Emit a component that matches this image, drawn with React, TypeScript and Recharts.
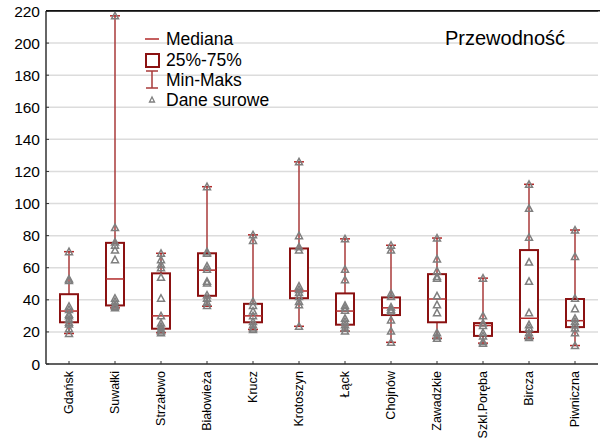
import { ComposedChart, Bar, Scatter, XAxis, YAxis, CartesianGrid, ReferenceLine } from 'recharts'

const categories = [
  'Gdańsk', 'Suwałki', 'Strzałowo', 'Białowieża', 'Krucz', 'Krotoszyn',
  'Łąck', 'Chojnów', 'Zawadzkie', 'Szkl.Poręba', 'Bircza', 'Piwniczna',
]
const minV = [19, 35, 19.5, 36, 21.5, 23.5, 20.5, 13.5, 16, 13, 16, 11.5]
const q1V = [26, 36.5, 22, 42.5, 26, 41, 24.5, 30.5, 26, 17.5, 20, 23]
const medV = [33, 53, 30, 58.5, 30, 45.5, 33, 35, 40.5, 24, 28.5, 27]
const q3V = [43.5, 75.5, 56.5, 69, 37.5, 72, 44, 41.5, 56, 25.5, 71, 40.5]
const maxV = [70, 217, 69, 110.5, 80.5, 126, 78, 74, 78.5, 53.5, 112, 83.5]

// dane surowe per stacja
const raw = [
  [70, 53, 52, 36, 34, 31, 30, 28, 26, 25, 22, 19],
  [217, 85, 76, 74, 71, 65, 41, 39, 37, 36, 35],
  [69, 65, 62, 60, 54, 41, 30, 25.5, 23.5, 22, 20.5, 19.5],
  [110.5, 70, 69, 61, 59, 51.5, 50.5, 43, 41, 38.5, 36.5],
  [80.5, 77, 39, 36.5, 33, 30, 26.5, 24.5, 22.5, 21.5],
  [126, 80, 73, 71, 48.5, 46.5, 44.5, 42, 39, 37, 23.5],
  [78, 59, 52.5, 36.5, 35, 33.5, 28.5, 26.5, 24.5, 22.5, 20.5],
  [74, 71, 44, 42, 35.5, 34, 33, 27.5, 20.5, 13.5],
  [78.5, 65.5, 58, 54.5, 53.5, 42.5, 37, 32, 19.5, 17.5, 16],
  [53.5, 30, 25.5, 24, 19.5, 17.5, 14, 13],
  [112, 97, 79, 63.5, 51.5, 32, 24.5, 22.5, 19.5, 17.5, 16.5],
  [83.5, 67, 41, 34.5, 28.5, 26.5, 24.5, 22.5, 19.5, 11.5],
]

const yTicks = [0, 20, 40, 60, 80, 100, 120, 140, 160, 180, 200, 220]

const boxData = categories.map((name, i) => ({
  name, min: minV[i], q1: q1V[i], median: medV[i], q3: q3V[i], max: maxV[i],
}))
const rawPoints = categories.flatMap((name, i) => raw[i].map((v) => ({ name, v })))

const FONT = '"Liberation Sans", Arial, sans-serif'
const BOX = '#8B1212'
const WHISK = '#A83A3A'
const MED = '#B22A2A'
const GREY = '#7F7F7F'

function BoxShape(props: any) {
  const { x, y, width, height, payload } = props
  if (!payload) return null
  const top = Math.min(y, y + height)
  const span = Math.abs(height)
  const k = span / (payload.max - payload.min)
  const py = (v: number) => top + (payload.max - v) * k
  const cx = x + width / 2
  const cap = 5
  return (
    <g>
      <line x1={cx} x2={cx} y1={py(payload.max)} y2={py(payload.min)} stroke={WHISK} strokeWidth={1.5} />
      <line x1={cx - cap} x2={cx + cap} y1={py(payload.max)} y2={py(payload.max)} stroke={MED} strokeWidth={1.5} />
      <line x1={cx - cap} x2={cx + cap} y1={py(payload.min)} y2={py(payload.min)} stroke={MED} strokeWidth={1.5} />
      <rect x={x} y={py(payload.q3)} width={width} height={py(payload.q1) - py(payload.q3)}
        fill="#fff" stroke={BOX} strokeWidth={2} />
      <line x1={x} x2={x + width} y1={py(payload.median)} y2={py(payload.median)} stroke={MED} strokeWidth={1.5} />
    </g>
  )
}

function Tri(props: any) {
  const { cx, cy } = props
  if (cx == null || cy == null) return null
  return (
    <polygon
      points={`${cx},${cy - 3.5} ${cx - 3.5},${cy + 3} ${cx + 3.5},${cy + 3}`}
      fill="none" stroke={GREY} strokeWidth={1.5}
    />
  )
}

function XTick(props: any) {
  const { x, y, payload } = props
  return (
    <text x={x} y={y} transform={`rotate(-90 ${x} ${y})`} textAnchor="end" dy="0.35em"
      fontSize={12.5} fontFamily={FONT} fill="#000">
      {payload.value}
    </text>
  )
}

function LegendBox() {
  const t = { fontSize: 17.5, fontFamily: FONT, fill: '#000' }
  return (
    <svg width={600} height={439} style={{ position: 'absolute', left: 0, top: 0, pointerEvents: 'none' }}>
      {/* ramka u góry */}
      <rect x={46} y={10} width={554} height={1.5} fill="#111" />
      <line x1={145} x2={159} y1={39} y2={39} stroke={MED} strokeWidth={1.5} />
      <text x={166} y={45} {...t}>Mediana</text>
      <rect x={146} y={54} width={13} height={13} fill="#fff" stroke={BOX} strokeWidth={2} />
      <text x={166} y={66} {...t}>25%-75%</text>
      <line x1={152} x2={152} y1={71} y2={88} stroke={WHISK} strokeWidth={1.5} />
      <line x1={146} x2={158} y1={71} y2={71} stroke={WHISK} strokeWidth={1.5} />
      <line x1={146} x2={158} y1={88} y2={88} stroke={WHISK} strokeWidth={1.5} />
      <text x={166} y={86} {...t}>Min-Maks</text>
      <polygon points="152,97 149.5,102 154.5,102" fill="none" stroke={GREY} strokeWidth={1.3} />
      <text x={166} y={106} {...t}>Dane surowe</text>
      <text x={445} y={45} fontSize={20} fontFamily={FONT} fill="#000">Przewodność</text>
    </svg>
  )
}

export default function App() {
  return (
    <div style={{ position: 'absolute', left: 0, top: 0, width: 600, height: 439, background: '#fff', fontFamily: FONT }}>
      <ComposedChart width={600} height={439} data={boxData} margin={{ top: 11, right: 2, left: 0, bottom: 0 }}>
        <CartesianGrid horizontal vertical={false} stroke="#DCDCDC" strokeWidth={1.5} />
        <XAxis
          dataKey="name"
          type="category"
          allowDuplicatedCategory={false}
          height={75}
          tick={<XTick />}
          interval={0}
          tickSize={-3}
          tickMargin={10}
          stroke="#333"
          axisLine={{ stroke: '#333', strokeWidth: 1.5 }}
        />
        <YAxis
          domain={[0, 220]}
          ticks={yTicks}
          width={46}
          interval={0}
          tickSize={-3}
          tickMargin={9}
          tick={{ fill: '#000', fontSize: 15.5, fontFamily: FONT }}
          stroke="#333"
          axisLine={{ stroke: '#333', strokeWidth: 1.5 }}
        />
        <ReferenceLine y={220} stroke="#000" strokeWidth={1.2} />
        <Bar
          dataKey={(d: any) => [d.min, d.max]}
          barSize={18}
          shape={<BoxShape />}
          isAnimationActive={false}
        />
        <Scatter data={rawPoints} dataKey="v" shape={<Tri />} isAnimationActive={false} />
      </ComposedChart>
      <LegendBox />
    </div>
  )
}
